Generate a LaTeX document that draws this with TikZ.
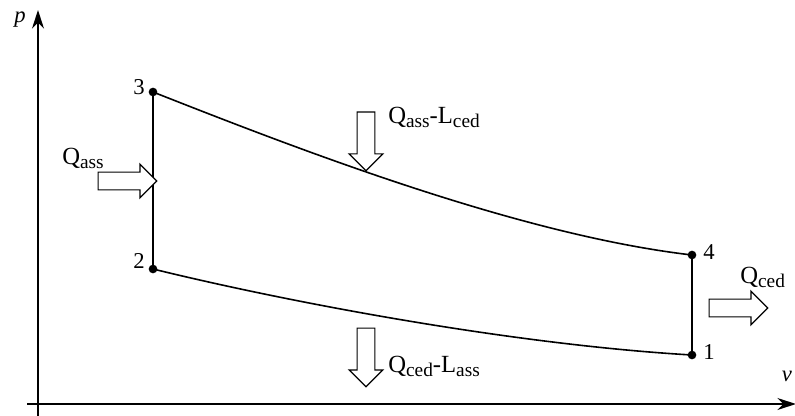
\documentclass[tikz,border=0pt]{standalone}
\usepackage{fontspec}
\setmainfont{Liberation Serif}
\usetikzlibrary{arrows.meta,shapes.arrows}

\newcommand{\sbs}[1]{\raisebox{-3pt}{\fontsize{14.5pt}{15pt}\selectfont #1}}

\begin{document}
\begin{tikzpicture}[x=0.75pt, y=-0.75pt,
  axis/.style={line width=1.1pt, -{Stealth[length=14pt, width=9pt]}},
  cycleline/.style={line width=1.2pt},
  statept/.style={circle, fill=black, inner sep=0pt, minimum size=6.5pt},
  heatarrow/.style={single arrow, draw, line width=0.9pt, fill=white,
    minimum height=44pt, inner sep=6.2pt, single arrow head extend=6pt},
  heatlabel/.style={font=\fontsize{18.5pt}{19pt}\selectfont, inner sep=0pt},
  ptlabel/.style={font=\fontsize{17pt}{18pt}\selectfont, inner sep=0pt}]
  \useasboundingbox (0,0) rectangle (795,416);

  % Axes
  \draw[axis] (38,420) -- (38,10);
  \draw[axis] (27,404) -- (796,404);
  \node[ptlabel] (plabel) at (20,20) {\textit{p}};
  \node[ptlabel] (vlabel) at (787,376) {\textit{v}};

  % State points
  \node[statept] (s1) at (692,355) {};
  \node[statept] (s2) at (153,269) {};
  \node[statept] (s3) at (153,92) {};
  \node[statept] (s4) at (692,255) {};
  \node[ptlabel] (n1) at (709,352) {1};
  \node[ptlabel] (n2) at (139,261) {2};
  \node[ptlabel] (n3) at (139,87) {3};
  \node[ptlabel] (n4) at (709,252) {4};

  % Cycle
  \draw[cycleline] (s2.center) -- (s3.center);
  \draw[cycleline] (s3.center) .. controls (300,150) and (520,235) .. (s4.center);
  \draw[cycleline] (s4.center) -- (s1.center);
  \draw[cycleline] (s2.center) .. controls (300,305) and (520,345) .. (s1.center);

  % Heat and work arrows
  \node[heatarrow] (qin) at (123,181) {};
  \node[heatlabel, anchor=base west] (qinlabel) at (62,165) {Q\sbs{ass}};
  \node[heatarrow, shape border rotate=270] (qexp) at (366,137) {};
  \node[heatlabel, anchor=base west] (qexplabel) at (388,124) {Q\sbs{ass}-L\sbs{ced}};
  \node[heatarrow] (qout) at (734,308) {};
  \node[heatlabel, anchor=base west] (qoutlabel) at (740,284) {Q\sbs{ced}};
  \node[heatarrow, shape border rotate=270] (qcomp) at (366,353) {};
  \node[heatlabel, anchor=base west] (qcomplabel) at (388,372) {Q\sbs{ced}-L\sbs{ass}};

\end{tikzpicture}
\end{document}
